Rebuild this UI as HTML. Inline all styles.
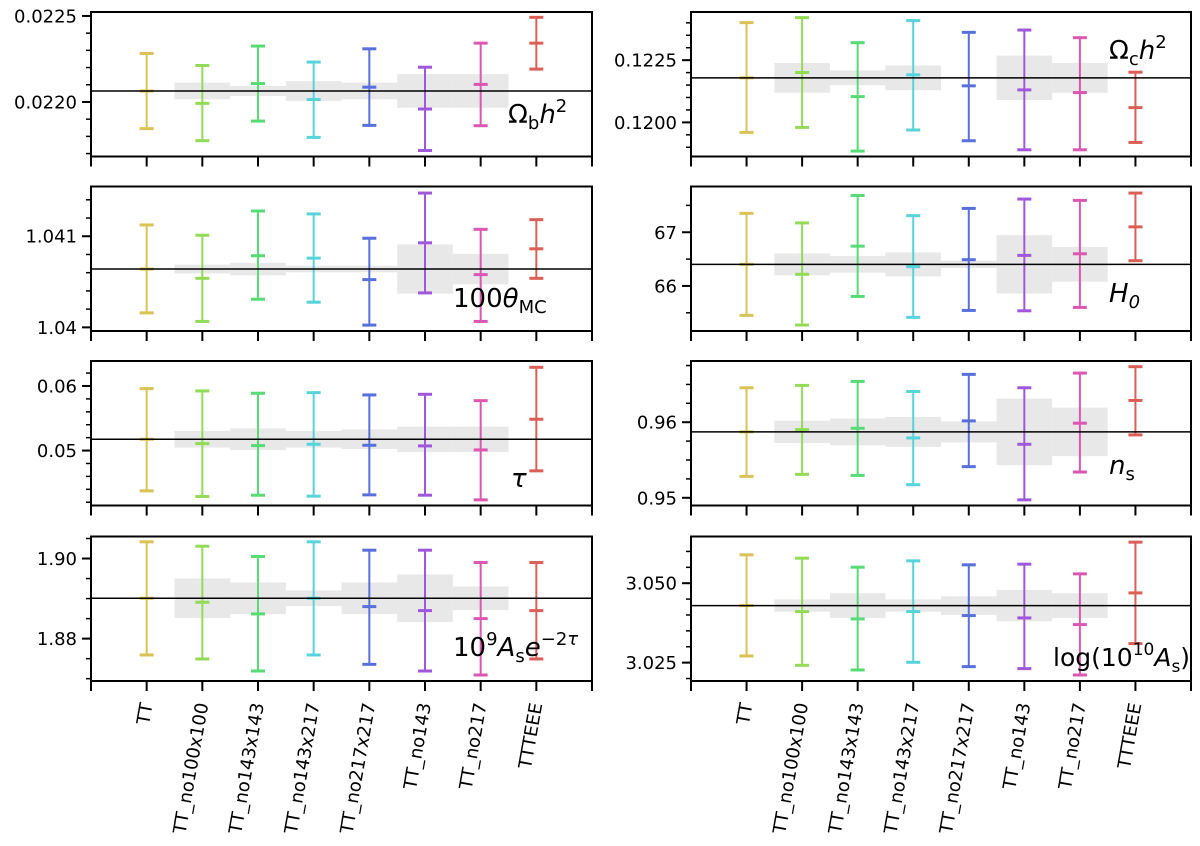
<!DOCTYPE html>
<html><head><meta charset="utf-8"><style>
html,body{margin:0;padding:0;background:#fff;}
svg{display:block;font-family:"DejaVu Sans","Liberation Sans",sans-serif;}
</style></head><body>
<svg id="chart" width="1200" height="846" viewBox="0 0 1200 846" xmlns="http://www.w3.org/2000/svg"></svg>
<script>
const categories = ["TT","TT_no100x100","TT_no143x143","TT_no143x217","TT_no217x217","TT_no143","TT_no217","TTTEEE"];
const colors = ["#dbc256","#92db57","#57db75","#57d3db","#5770db","#a157db","#db57b2","#db5f57"];

const ombh2_mid = [0.022064,0.021992,0.022107,0.022014,0.022086,0.021959,0.022102,0.022342];
const ombh2_hi  = [0.022282,0.022212,0.022325,0.022232,0.022309,0.022202,0.022342,0.022492];
const ombh2_lo  = [0.021845,0.021775,0.021889,0.021794,0.021864,0.021718,0.021862,0.022191];
const ombh2_band = [0.0000486,0.0000292,0.0000574,0.0000486,0.0000982,0.0000982];
const ombh2_ticks = [0.0220,0.0225];
const ombh2_tick_labels = ["0.0220","0.0225"];

const theta_mid = [1.040640,1.040538,1.040786,1.040760,1.040524,1.040928,1.040579,1.040862];
const theta_hi  = [1.041124,1.041011,1.041277,1.041245,1.040978,1.041474,1.041076,1.041182];
const theta_lo  = [1.040159,1.040065,1.040309,1.040276,1.040025,1.040378,1.040065,1.040538];
const theta_band = [0.000049,0.000069,0.000036,0.000036,0.00027,0.000167];
const theta_ticks = [1.040,1.041];
const theta_tick_labels = ["1.04","1.041"];

const tau_mid = [0.05175,0.05108,0.05077,0.05098,0.05082,0.05072,0.0501,0.05485];
const tau_hi  = [0.05959,0.05923,0.05887,0.05897,0.05861,0.05871,0.05773,0.06289];
const tau_lo  = [0.04376,0.04289,0.04309,0.04294,0.04314,0.04309,0.04237,0.04686];
const tau_band = [0.00129,0.00168,0.00129,0.00152,0.00196,0.00196];
const tau_ticks = [0.05,0.06];
const tau_tick_labels = ["0.05","0.06"];

const as_mid = [1.89008,1.88908,1.88617,1.89008,1.888,1.887,1.885,1.887];
const as_hi  = [1.90417,1.90308,1.9005,1.90417,1.90208,1.90208,1.899,1.899];
const as_lo  = [1.87592,1.87492,1.87192,1.87592,1.87358,1.87192,1.87092,1.87492];
const as_band = [0.00496,0.00396,0.00196,0.00396,0.00596,0.00296];
const as_ticks = [1.88,1.90];
const as_tick_labels = ["1.88","1.90"];

const omch2_mid = [0.121790,0.122004,0.121036,0.121911,0.121468,0.121306,0.121198,0.120593];
const omch2_hi  = [0.124008,0.124210,0.123202,0.124089,0.123617,0.123710,0.123403,0.122016];
const omch2_lo  = [0.119597,0.119798,0.118847,0.119694,0.119262,0.118899,0.118899,0.119194];
const omch2_band = [0.000598,0.000296,0.000497,0.00003,0.000894,0.000598];
const omch2_ticks = [0.1200,0.1225];
const omch2_tick_labels = ["0.1200","0.1225"];

const h0_mid = [66.402,66.217,66.741,66.359,66.489,66.569,66.599,67.100];
const h0_hi  = [67.352,67.174,67.685,67.309,67.444,67.618,67.593,67.730];
const h0_lo  = [65.452,65.272,65.804,65.415,65.544,65.537,65.600,66.470];
const h0_band = [0.204,0.154,0.222,0.068,0.543,0.324];
const h0_ticks = [66,67];
const h0_tick_labels = ["66","67"];

const ns_mid = [0.95872,0.95903,0.9592,0.95792,0.96018,0.95708,0.95987,0.96288];
const ns_hi  = [0.96456,0.96487,0.9654,0.96407,0.96633,0.96456,0.9665,0.96735];
const ns_lo  = [0.95283,0.9531,0.95296,0.95173,0.95412,0.94973,0.95341,0.95832];
const ns_band = [0.00148,0.00177,0.00199,0.00139,0.0044,0.00321];
const ns_ticks = [0.95,0.96];
const ns_tick_labels = ["0.95","0.96"];

const logas_mid = [3.04296,3.04107,3.03876,3.04107,3.03981,3.03908,3.03698,3.04695];
const logas_hi  = [3.05893,3.05788,3.05504,3.05704,3.05578,3.05599,3.05294,3.06292];
const logas_lo  = [3.0271,3.02416,3.02269,3.02511,3.02374,3.02311,3.02111,3.03099];
const logas_band = [0.00194,0.00389,0.00194,0.00294,0.00494,0.00389];
const logas_ticks = [3.025,3.050];
const logas_tick_labels = ["3.025","3.050"];

const NS = "http://www.w3.org/2000/svg";
const svg = document.getElementById("chart");
function el(tag, attrs, parent){
  const e = document.createElementNS(NS, tag);
  for (const k in attrs) e.setAttribute(k, attrs[k]);
  (parent||svg).appendChild(e);
  return e;
}

const panels = [
  {name:"omega-b-h2", col:0,row:0, ymin:0.021683, ymax:0.022523, minor:0.0001, mid:ombh2_mid, hi:ombh2_hi, lo:ombh2_lo, band:ombh2_band, ticks:ombh2_ticks, labels:ombh2_tick_labels, fs:26,
   title:{x:508,y:123,html:'<tspan>Ω</tspan><tspan font-size="18" dy="6">b</tspan><tspan font-style="italic" dy="-6">h</tspan><tspan font-size="18" dy="-11">2</tspan>'}},
  {name:"theta-mc", col:0,row:1, ymin:1.039960, ymax:1.041546, minor:0.0002, mid:theta_mid, hi:theta_hi, lo:theta_lo, band:theta_band, ticks:theta_ticks, labels:theta_tick_labels, fs:26,
   title:{x:453,y:307,html:'<tspan>100</tspan><tspan font-style="italic">θ</tspan><tspan font-size="18" dy="6">MC</tspan>'}},
  {name:"tau", col:0,row:2, ymin:0.041495, ymax:0.063866, minor:0.002, mid:tau_mid, hi:tau_hi, lo:tau_lo, band:tau_band, ticks:tau_ticks, labels:tau_tick_labels, fs:26,
   title:{x:511,y:487,html:'<tspan font-style="italic">τ</tspan>'}},
  {name:"amplitude-as", col:0,row:3, ymin:1.86942, ymax:1.9055, minor:0.005, mid:as_mid, hi:as_hi, lo:as_lo, band:as_band, ticks:as_ticks, labels:as_tick_labels, fs:26,
   title:{x:453,y:656,html:'<tspan>10</tspan><tspan font-size="18" dy="-11">9</tspan><tspan font-style="italic" dy="11">A</tspan><tspan font-size="18" dy="6">s</tspan><tspan font-style="italic" dy="-6">e</tspan><tspan font-size="18" dy="-11">−2</tspan><tspan font-size="18" font-style="italic">τ</tspan>'}},
  {name:"omega-c-h2", col:1,row:0, ymin:0.118629, ymax:0.124435, minor:0.0005, mid:omch2_mid, hi:omch2_hi, lo:omch2_lo, band:omch2_band, ticks:omch2_ticks, labels:omch2_tick_labels, fs:26,
   title:{x:1109,y:59,html:'<tspan>Ω</tspan><tspan font-size="18" dy="6">c</tspan><tspan font-style="italic" dy="-6">h</tspan><tspan font-size="18" dy="-11">2</tspan>'}},
  {name:"hubble-h0", col:1,row:1, ymin:65.161, ymax:67.852, minor:0.5, mid:h0_mid, hi:h0_hi, lo:h0_lo, band:h0_band, ticks:h0_ticks, labels:h0_tick_labels, fs:26,
   title:{x:1109,y:302,html:'<tspan font-style="italic">H</tspan><tspan font-size="18" font-style="italic" dy="6">0</tspan>'}},
  {name:"spectral-index-ns", col:1,row:2, ymin:0.94898, ymax:0.9681, minor:0.0025, mid:ns_mid, hi:ns_hi, lo:ns_lo, band:ns_band, ticks:ns_ticks, labels:ns_tick_labels, fs:26,
   title:{x:1109,y:474,html:'<tspan font-style="italic">n</tspan><tspan font-size="18" dy="6">s</tspan>'}},
  {name:"log-as", col:1,row:3, ymin:3.01922, ymax:3.06470, minor:0.005, mid:logas_mid, hi:logas_hi, lo:logas_lo, band:logas_band, ticks:logas_ticks, labels:logas_tick_labels, fs:25,
   title:{x:1053,y:666,html:'<tspan>log(10</tspan><tspan font-size="17" dy="-11">10</tspan><tspan font-style="italic" dy="11">A</tspan><tspan font-size="17" dy="6">s</tspan><tspan dy="-6">)</tspan>'}}
];

const colX = [[91,592],[691,1191]];
const rowY = [12,186.5,361,536.5];
const PH = 144.5;

panels.forEach(p => {
  const x0 = colX[p.col][0], x1 = colX[p.col][1];
  const y0 = rowY[p.row], y1 = y0 + PH;
  const X = i => x0 + (i + 1) * (x1 - x0) / 9;
  const Y = v => y1 - (v - p.ymin) / (p.ymax - p.ymin) * PH;
  const g = el("g", {});
  
  

  const ref = p.mid[0];
  p.band.forEach((b, k) => {
    const i = k + 1;
    const r = el("rect", {x:X(i-0.5), y:Y(ref+b), width:X(i+0.5)-X(i-0.5), height:Math.max(0.5, Y(ref-b)-Y(ref+b)), fill:"#e8e8e8"}, g);
    
    
  });

  categories.forEach((c, i) => {
    const eb = el("g", {stroke:colors[i], "stroke-width":2}, g);
    
    
    const cx = X(i);
    el("line", {x1:cx, x2:cx, y1:Y(p.hi[i]), y2:Y(p.lo[i])}, eb);
    [p.hi[i], p.mid[i], p.lo[i]].forEach(v => {
      el("line", {x1:cx-7, x2:cx+7, y1:Y(v), y2:Y(v), "stroke-width":3}, eb);
    });
  });

  const rl = el("line", {x1:x0, x2:x1, y1:Y(ref), y2:Y(ref), stroke:"#000", "stroke-width":1.5}, g);
  
  

  const fr = el("rect", {x:x0, y:y0, width:x1-x0, height:PH, fill:"none", stroke:"#000", "stroke-width":2}, g);
  
  

  const start = Math.ceil(p.ymin / p.minor - 1e-6);
  for (let k = start; k * p.minor <= p.ymax + 1e-12; k++) {
    const v = k * p.minor, yy = Y(v);
    el("line", {x1:x0-5, x2:x0, y1:yy, y2:yy, stroke:"#000", "stroke-width":1.5}, g);
  }
  p.ticks.forEach((v, k) => {
    const yy = Y(v);
    el("line", {x1:x0-9, x2:x0, y1:yy, y2:yy, stroke:"#000", "stroke-width":2}, g);
    const t = el("text", {x:x0-14, y:yy+6.5, "text-anchor":"end", "font-size":18, fill:"#000"}, g);
    t.textContent = p.labels[k];
    
    
  });
  for (let i = -1; i <= 8; i++) {
    el("line", {x1:X(i), x2:X(i), y1:y1, y2:y1+10, stroke:"#000", "stroke-width":2}, g);
  }
  const tl = el("text", {x:p.title.x, y:p.title.y, "font-size":p.fs, fill:"#000"}, g);
  tl.innerHTML = p.title.html;
  
  

  if (p.row === 3) {
    categories.forEach((c, i) => {
      const tx = X(i) + 6, ty = 704;
      const t = el("text", {x:tx, y:ty, "text-anchor":"end", "font-size":18, fill:"#000", transform:`rotate(-80 ${tx} ${ty})`}, g);
      t.textContent = c;
      
      
    });
  }
});
</script>
</body></html>
